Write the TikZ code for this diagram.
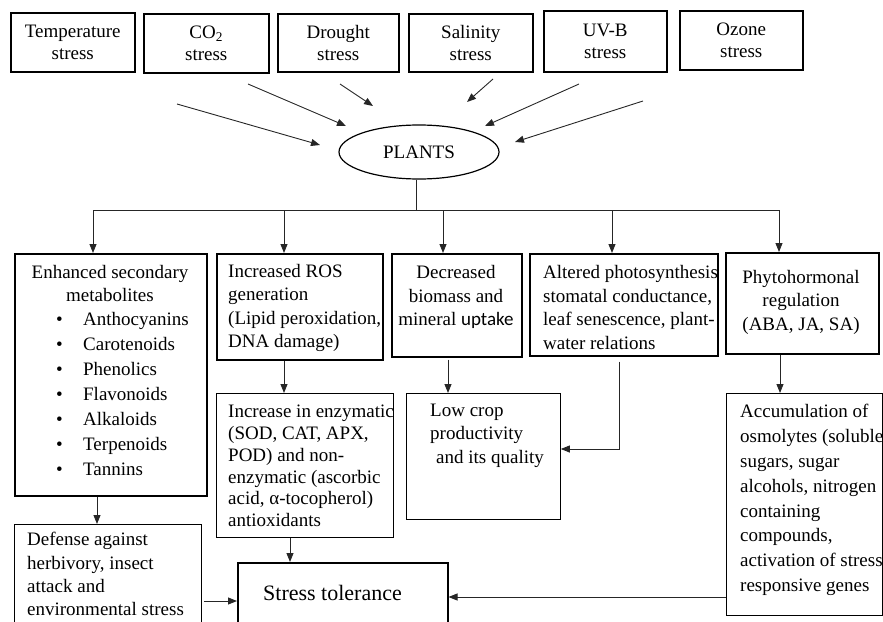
\documentclass[tikz,border=0pt]{standalone}
\usepackage{fontspec}
\setmainfont{Liberation Serif}
\newfontfamily\carlito{Carlito}
\usetikzlibrary{shapes.geometric, arrows.meta}

\begin{document}
\begin{tikzpicture}[x=1pt, y=-1pt,
  box/.style={draw, line width=1.5pt, inner sep=0pt, anchor=north west},
  thinbox/.style={draw, line width=0.8pt, inner sep=0pt, anchor=north west},
  txt/.style={font=\fontsize{19}{23.5}\selectfont, inner sep=0pt},
  stressbox/.style={box, align=center, font=\fontsize{19}{22.5}\selectfont},
  link/.style={-{Triangle[length=9pt, width=7pt]}, line width=0.9pt, black!85}]
  \useasboundingbox (0,0) rectangle (883,621);
  \clip (0,0) rectangle (883,621);

  % Stress factors
  \node[stressbox, minimum width=124, minimum height=59] (temp) at (10,12) {Temperature\\stress};
  \node[stressbox, minimum width=125, minimum height=59] (co2) at (143,13) {CO\textsubscript{2}\\stress};
  \node[stressbox, minimum width=121, minimum height=58] (drought) at (277,13) {Drought\\stress};
  \node[stressbox, minimum width=124, minimum height=58] (salinity) at (408,13) {Salinity\\stress};
  \node[stressbox, minimum width=123, minimum height=61] (uvb) at (543,10) {UV-B\\stress};
  \node[stressbox, minimum width=123, minimum height=59] (ozone) at (679,10) {Ozone\\stress};

  % Plants
  \node[draw, ellipse, line width=1.2pt, minimum width=160, minimum height=54, txt] (plants) at (419,152) {PLANTS};

  % Arrows into plants
  \coordinate (a1) at (177,104); \coordinate (e1) at (320,145);
  \coordinate (a2) at (248,84);  \coordinate (e2) at (346,126);
  \coordinate (a3) at (340,84);  \coordinate (e3) at (373,106);
  \coordinate (a4) at (493,79);  \coordinate (e4) at (467,102);
  \coordinate (a5) at (579,84);  \coordinate (e5) at (485,126);
  \coordinate (a6) at (643,101); \coordinate (e6) at (515,142);
  \draw[link] (a1) -- (e1);
  \draw[link] (a2) -- (e2);
  \draw[link] (a3) -- (e3);
  \draw[link] (a4) -- (e4);
  \draw[link] (a5) -- (e5);
  \draw[link] (a6) -- (e6);

  % Responses
  \node[box, minimum width=192, minimum height=242] (enhanced) at (14,253) {};
  \node[txt, align=center] at (110,283.5) {Enhanced secondary\\metabolites};
  \node[txt, align=left, anchor=west, font=\fontsize{19}{25}\selectfont] at (56,394) {\makebox[27pt][l]{\textbullet}Anthocyanins\\
    \makebox[27pt][l]{\textbullet}Carotenoids\\
    \makebox[27pt][l]{\textbullet}Phenolics\\
    \makebox[27pt][l]{\textbullet}Flavonoids\\
    \makebox[27pt][l]{\textbullet}Alkaloids\\
    \makebox[27pt][l]{\textbullet}Terpenoids\\
    \makebox[27pt][l]{\textbullet}Tannins};

  \node[box, minimum width=166, minimum height=106] (ros) at (216,253) {};
  \node[txt, align=left, anchor=west] at (228,308) {Increased ROS\\generation\\(Lipid peroxidation,\\DNA damage)};

  \node[box, minimum width=130, minimum height=103] (decreased) at (391,253) {};
  \node[txt, align=center] at (456,297) {Decreased\\biomass and\\mineral {\carlito uptake}};

  \node[box, minimum width=188, minimum height=102] (altered) at (529,253) {};
  \node[txt, align=left, anchor=west] at (543,307.5) {Altered photosynthesis\\stomatal conductance,\\leaf senescence, plant-\\water relations};

  \node[box, minimum width=153, minimum height=101] (phyto) at (725,252) {};
  \node[txt, align=center] at (801,302) {Phytohormonal\\regulation\\(ABA, JA, SA)};

  % Outcomes
  \node[thinbox, minimum width=177, minimum height=144] (enzymatic) at (216,393) {};
  \node[txt, align=left, anchor=west, font=\fontsize{19}{21.7}\selectfont] at (228,466) {Increase in enzymatic\\(SOD, CAT, APX,\\POD) and non-\\enzymatic (ascorbic\\acid, α-tocopherol)\\antioxidants};

  \node[thinbox, minimum width=154, minimum height=126] (lowcrop) at (406,393) {};
  \node[txt, align=left, anchor=west] at (430,435.5) {Low crop\\productivity\\\hspace*{6pt}and its quality};

  \node[thinbox, minimum width=156, minimum height=222] (accum) at (726,393) {};
  \node[txt, align=left, anchor=west, font=\fontsize{19}{24.8}\selectfont] at (740,500) {Accumulation of\\osmolytes (soluble\\sugars, sugar\\alcohols, nitrogen\\containing\\compounds,\\activation of stress\\responsive genes};

  \node[thinbox, minimum width=187, minimum height=120] (defense) at (14,524) {};
  \node[txt, align=left, anchor=west, font=\fontsize{19}{23.2}\selectfont] at (27,574) {Defense against\\herbivory, insect\\attack and\\environmental stress};

  \node[box, minimum width=210, minimum height=80] (tolerance) at (237,562) {};
  \node[txt, font=\fontsize{22}{26}\selectfont] at (332.5,593) {Stress tolerance};

  % Branching from plants
  \coordinate (bus) at (416,210);
  \coordinate (b1) at (93,210);
  \coordinate (b2) at (284,210);
  \coordinate (b3) at (443,210);
  \coordinate (b4) at (612,210);
  \coordinate (b5) at (779,210);
  \draw[line width=0.9pt, black!85] (plants.south -| bus) -- (bus);
  \draw[line width=0.9pt, black!85] (b1) -- (b5);
  \draw[link] (b1) -- (b1 |- enhanced.north);
  \draw[link] (b2) -- (b2 |- ros.north);
  \draw[link] (b3) -- (b3 |- decreased.north);
  \draw[link] (b4) -- (b4 |- altered.north);
  \draw[link] (b5) -- (b5 |- phyto.north);

  % Lower links
  \coordinate (x1) at (97,0);
  \coordinate (x2) at (448,0);
  \coordinate (x4) at (780,0);
  \coordinate (x5) at (290,0);
  \coordinate (bend) at (619,449);
  \coordinate (y1) at (0,601);
  \coordinate (y2) at (0,597);
  \draw[link] (b2 |- ros.south) -- (b2 |- enzymatic.north);
  \draw[link, shorten <=2pt] (x2 |- decreased.south) -- (x2 |- lowcrop.north);
  \draw[link, shorten <=5pt] (bend |- altered.south) -- (bend) -- (bend -| lowcrop.east);
  \draw[link] (x4 |- phyto.south) -- (x4 |- accum.north);
  \draw[link] (x1 |- enhanced.south) -- (x1 |- defense.north);
  \draw[link] (x5 |- enzymatic.south) -- (x5 |- tolerance.north);
  \draw[link, shorten <=2pt] (y1 -| defense.east) -- (y1 -| tolerance.west);
  \draw[link] (y2 -| accum.west) -- (y2 -| tolerance.east);
\end{tikzpicture}
\end{document}
